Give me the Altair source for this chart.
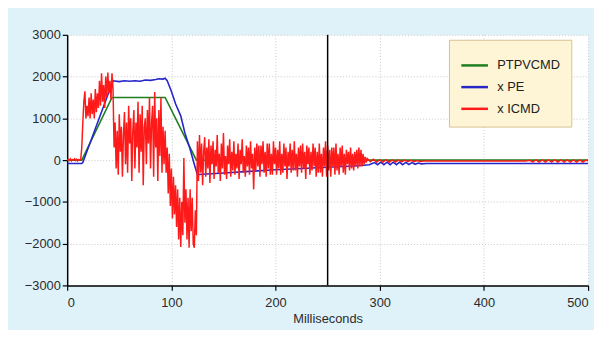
import altair as alt
import pandas as pd

series_names = ["PTPVCMD", "x PE", "x ICMD"]
series_colors = ["#1e7d1e", "#2626c9", "#ff1a1a"]

# PTPVCMD (velocity command) key points
green_t = [0, 14, 43, 94, 124, 500]
green_v = [0, 0, 1500, 1500, 0, 0]

# x PE key points
blue_t = [0, 14, 15, 44, 50, 55, 60, 65, 70, 75, 80, 85, 88, 92, 94, 96, 100, 104, 109, 113,
          118, 122, 125, 130, 150, 175, 200, 225, 250, 275, 290, 295, 298, 301, 304, 307, 310,
          313, 316, 319, 322, 325, 328, 331, 334, 337, 340, 345, 400, 500]
blue_v = [-80, -80, -60, 1900, 1880, 1900, 1890, 1900, 1890, 1920, 1910, 1930, 1950, 1940, 1960,
          1900, 1650, 1350, 1060, 650, 260, -100, -350, -340, -310, -270, -230, -200, -170, -140,
          -110, -60, -110, -50, -110, -50, -110, -50, -110, -50, -110, -55, -105, -60, -100, -70,
          -90, -80, -80, -80]

# x ICMD samples, 1 ms apart from 0 to 288 ms
red_t = list(range(0, 289))
red_v = [
    0, 20, -10, 30, -20, 10, 0, 30, -10, 20, -20, 10, 0, 20,
    300, 900, 1400, 1650, 1000, 1300, 1050, 1500, 1000, 1600, 1100, 1450, 1000, 1700, 1150, 1600,
    1250, 1900, 1300, 2080, 1400, 1800, 1250, 2000, 1500, 2100, 1600, 1900, 1450, 2080, 1700,
    300, 900, -200, 700, -350, 1100, 200, 800, -400, 600, 1150, -100, 900, -300, 1300, 400, 1000,
    -500, 700, 1200, -200, 900, 300, 1400, -300, 1100, 200, 1300, -600, 800, 1000, -100, 1200, 400,
    1500, -200, 900, 1300, -400, 1630, 300, 1000, -500, 1200, 100, 1500, -300, 800, -100, 700,
    -300, 300, -800, 150, -1100, -200, -1400, -400, -1300, -600, -1600, -700, -1900, -900, -2080,
    -1000, -1800, 50, -1500, -700, -1900, -900, -2100, -700, -1700, -900, -2000, -2100, -1200, -1800,
    450, -500, 600, -300, 400, -600, 200, 550, -400, 300, -200, 500, -550, 350, -100, 450,
    -450, 250, -150, 600, -300, 150, -500, 400, -200, 650, -350, 100, -450, 350, -100, 500, -400, 200, -250, 450,
    -350, 150, -200, 400, -450, 250, -100, 500, -300, 100, -400, 350, -150, 300, -350, 450, -200, 150, -700, 300,
    -250, 400, -150, 350, -400, 350, -100, 450, -300, 200, -400, 400, -200, 400, -350, 150, -350, 450, -100, 300,
    -350, 250, -200, 450, -350, 150, -300, 400, -150, 300, -450, 200, -150, 400, -300, 250, -250, 450, -250, 150,
    -400, 300, -150, 350, -300, 400, -200, 200, -450, 350, -100, 300, -350, 200, -250, 400, -150, 300, -400, 200,
    -300, 400, -300, 150, -400, 300, -150, 450, -400, 350, -250, 250, -400, 300, -150, 300, -350, 400, -250, 150,
    -350, 300, -150, 350, -300, 150, -350, 250, -100, 200, -250, 300, -200, 150, -250, 200, -150, 250, -200, 300,
    -150, 250, -150, 150, -100, 80, -60, 40,
]
red_tail_t = [291, 294, 297, 300, 303, 306, 309, 312, 315, 318, 321, 324, 327, 330, 333, 336, 339,
              342, 350, 370, 400, 420, 440, 444, 447, 450, 453, 456, 459, 462, 465, 468, 471, 474,
              477, 480, 483, 486, 489, 492, 495, 498, 500]
red_tail_v = [-40, 20, -50, 10, -50, 10, -50, 5, -50, 0, -45, 0, -40, -5, -40, -10, -35, -20, -20,
              -20, -20, -20, -20, -5, -45, 5, -45, 5, -45, 5, -45, 5, -45, 5, -45, 5, -45, 5, -45,
              5, -45, 0, -20]

x_ticks = [0, 100, 200, 300, 400, 500]
y_ticks = [-3000, -2000, -1000, 0, 1000, 2000, 3000]
cursor_ms = [250]

rows = []
for t, v in zip(green_t, green_v):
    rows.append({"t": t, "v": v, "series": series_names[0]})
for t, v in zip(blue_t, blue_v):
    rows.append({"t": t, "v": v, "series": series_names[1]})
for t, v in zip(red_t + red_tail_t, red_v + red_tail_v):
    rows.append({"t": t, "v": v, "series": series_names[2]})
df = pd.DataFrame(rows)

xenc = alt.X("t:Q", scale=alt.Scale(domain=[0, 500], nice=False, zero=False),
             axis=alt.Axis(values=x_ticks, title="Milliseconds", labelPadding=6,
                           titlePadding=4, titleFontSize=13, titleFontWeight="normal",
                           titleColor="#2b2b2b", format="d"))
yenc = alt.Y("v:Q", scale=alt.Scale(domain=[-3000, 3000], nice=False),
             axis=alt.Axis(values=y_ticks, title=None, format="d", labelPadding=2))
cenc = alt.Color("series:N",
                 scale=alt.Scale(domain=series_names, range=series_colors),
                 legend=alt.Legend(title=None, orient="none", legendX=387, legendY=5,
                                   direction="vertical", fillColor="#fdf5d6",
                                   strokeColor="#d6c28e", padding=11,
                                   symbolType="stroke", symbolSize=729,
                                   symbolStrokeWidth=2.5, labelFontSize=13,
                                   labelFont="Liberation Sans", labelColor="#222222",
                                   rowPadding=-9, labelOffset=8))

layers = []
for name, w in zip(series_names, [1.6, 1.6, 1.5]):
    layers.append(
        alt.Chart(df).transform_filter(alt.datum.series == name)
        .mark_line(strokeWidth=w, clip=True)
        .encode(x=xenc, y=yenc, color=cenc)
    )

rule = alt.Chart(pd.DataFrame({"t": cursor_ms})).mark_rule(color="black", strokeWidth=1.5).encode(
    x=alt.X("t:Q")
)

chart = alt.layer(*layers, rule).properties(
    width=528, height=254,
    background="#dff2f9",
    padding={"left": 60, "top": 25, "right": 6, "bottom": 43},
    autosize=alt.AutoSizeParams(type="none"),
).configure_view(
    fill="white", stroke="transparent"
).configure_axis(
    domainColor="black", domainWidth=1.5, tickColor="black", tickSize=5, tickWidth=1.2,
    labelFont="Liberation Sans", labelFontSize=13, labelColor="#2b2b2b",
    titleFont="Liberation Sans",
    gridColor="#c8c8c8", gridDash=[1, 2], gridWidth=1,
)

chart.save("out.html", embed_options={"renderer": "svg", "actions": False})
